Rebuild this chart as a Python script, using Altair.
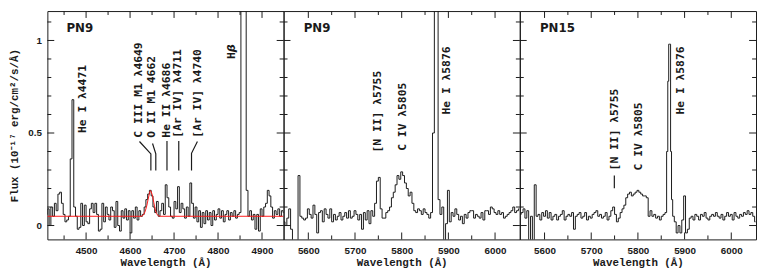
import altair as alt
import pandas as pd

# ---------------- data ----------------
PN9_BLUE = [
    (4410, 0.06), (4414, 0.09), (4418, 0.00), (4422, 0.10), (4426, 0.05), (4430, 0.12),
    (4434, 0.08), (4438, 0.17), (4442, 0.18), (4446, 0.12), (4450, 0.06), (4454, 0.02),
    (4458, 0.03), (4462, 0.05), (4466, 0.36), (4470, 0.68), (4474, 0.10), (4478, 0.05),
    (4482, -0.02), (4486, -0.01), (4490, 0.12), (4494, 0.00), (4498, 0.11), (4502, 0.02),
    (4506, 0.01), (4510, 0.09), (4514, 0.12), (4518, 0.07), (4522, 0.12), (4526, 0.06),
    (4530, -0.03), (4534, -0.02), (4538, 0.12), (4542, 0.02), (4546, 0.10), (4550, 0.06),
    (4554, 0.03), (4558, 0.10), (4562, 0.08), (4566, -0.01), (4570, 0.13), (4574, 0.00),
    (4578, -0.03), (4582, 0.08), (4586, 0.04), (4590, 0.09), (4594, 0.03), (4598, 0.08),
    (4602, -0.04), (4606, 0.08), (4610, 0.04), (4614, 0.10), (4618, 0.03), (4622, 0.08),
    (4626, 0.05), (4630, 0.06), (4634, 0.10), (4638, 0.14), (4642, 0.17), (4646, 0.19),
    (4650, 0.16), (4654, 0.10), (4658, 0.07), (4662, 0.13), (4666, 0.05), (4670, 0.08),
    (4674, 0.12), (4678, 0.06), (4682, 0.22), (4686, 0.15), (4690, 0.10), (4694, 0.05),
    (4698, 0.04), (4702, 0.13), (4706, 0.09), (4710, 0.21), (4714, 0.07), (4718, 0.12),
    (4722, 0.09), (4726, 0.04), (4730, 0.10), (4734, 0.05), (4738, 0.23), (4742, 0.12),
    (4746, 0.04), (4750, 0.10), (4754, 0.02), (4758, 0.08), (4762, -0.01), (4766, 0.07),
    (4770, 0.01), (4774, 0.08), (4778, 0.03), (4782, 0.07), (4786, 0.00), (4790, 0.08),
    (4794, 0.03), (4798, 0.06), (4802, 0.09), (4806, 0.04), (4810, 0.08), (4814, 0.02),
    (4818, 0.06), (4822, 0.08), (4826, 0.03), (4830, 0.07), (4834, 0.05), (4838, 0.08),
    (4842, 0.04), (4846, 0.06), (4850, 0.07), (4854, 1.60), (4858, 3.00), (4862, 1.80),
    (4866, 0.19), (4870, 0.05), (4874, 0.08), (4878, 0.03), (4882, 0.06), (4886, -0.02),
    (4890, 0.06), (4894, -0.03), (4898, 0.09), (4902, 0.05), (4906, 0.10), (4910, 0.12),
    (4914, 0.19), (4918, 0.16), (4922, 0.10), (4926, 0.04), (4930, 0.08), (4934, 0.06),
    (4938, 0.09), (4942, 0.05), (4946, 0.08), (4950, 0.07),
]

PN9_RED = [
    (5548, 0.02), (5552, 0.00), (5556, 0.04), (5560, 0.09), (5564, -0.02), (5568, -0.15),
    (5572, -0.15), (5576, -0.15), (5580, 0.27), (5584, 0.05), (5588, 0.04), (5592, 0.03),
    (5596, 0.04), (5600, 0.09), (5604, 0.06), (5608, 0.04), (5612, 0.11), (5616, 0.06),
    (5620, -0.04), (5624, 0.07), (5628, 0.08), (5632, 0.02), (5636, 0.09), (5640, 0.06),
    (5644, 0.04), (5648, 0.09), (5652, 0.02), (5656, 0.06), (5660, 0.03), (5664, 0.05),
    (5668, 0.07), (5672, 0.03), (5676, 0.05), (5680, 0.07), (5684, 0.04), (5688, 0.08),
    (5692, 0.04), (5696, 0.05), (5700, 0.08), (5704, 0.06), (5708, 0.03), (5712, 0.06),
    (5716, -0.02), (5720, 0.07), (5724, 0.03), (5728, 0.08), (5732, 0.01), (5736, 0.08),
    (5740, 0.05), (5744, 0.12), (5748, 0.24), (5752, 0.26), (5756, 0.09), (5760, 0.04),
    (5764, 0.04), (5768, 0.07), (5772, 0.08), (5776, 0.10), (5780, 0.15), (5784, 0.18),
    (5788, 0.22), (5792, 0.27), (5796, 0.25), (5800, 0.29), (5804, 0.27), (5808, 0.23),
    (5812, 0.20), (5816, 0.16), (5820, 0.18), (5824, 0.12), (5828, 0.08), (5832, 0.07),
    (5836, 0.09), (5840, 0.08), (5844, 0.06), (5848, 0.09), (5852, 0.07), (5856, 0.06),
    (5860, 0.04), (5864, 0.07), (5868, 0.50), (5872, 1.60), (5876, 1.40), (5880, 0.14),
    (5884, 0.06), (5888, 0.10), (5892, -0.12), (5896, 0.01), (5900, 0.19), (5904, 0.02),
    (5908, 0.07), (5912, 0.05), (5916, 0.09), (5920, 0.06), (5924, 0.03), (5928, 0.05),
    (5932, 0.01), (5936, 0.06), (5940, 0.04), (5944, 0.07), (5948, 0.08), (5952, 0.08),
    (5956, 0.04), (5960, 0.06), (5964, 0.05), (5968, 0.04), (5972, 0.07), (5976, 0.03),
    (5980, 0.08), (5984, 0.08), (5988, 0.06), (5992, 0.10), (5996, 0.09), (6000, 0.07),
    (6004, 0.06), (6008, 0.08), (6012, 0.06), (6016, 0.07), (6020, 0.04), (6024, 0.05),
    (6028, 0.06), (6032, 0.07), (6036, 0.08), (6040, 0.10), (6044, 0.07), (6048, 0.08),
    (6052, 0.09),
]

PN15_RED = [
    (5548, 0.06), (5552, 0.07), (5556, 0.09), (5560, 0.04), (5564, 0.08), (5568, -0.15),
    (5572, 0.05), (5576, -0.15), (5580, 0.22), (5584, 0.05), (5588, 0.06), (5592, 0.03),
    (5596, 0.07), (5600, 0.05), (5604, 0.08), (5608, 0.04), (5612, 0.07), (5616, 0.03),
    (5620, 0.05), (5624, 0.06), (5628, 0.03), (5632, 0.05), (5636, 0.06), (5640, 0.08),
    (5644, 0.03), (5648, 0.05), (5652, 0.06), (5656, 0.05), (5660, 0.07), (5664, -0.02),
    (5668, 0.05), (5672, 0.06), (5676, 0.07), (5680, 0.04), (5684, 0.05), (5688, 0.07),
    (5692, 0.03), (5696, 0.05), (5700, 0.04), (5704, 0.06), (5708, 0.07), (5712, 0.08),
    (5716, 0.05), (5720, 0.06), (5724, 0.04), (5728, 0.05), (5732, 0.07), (5736, 0.03),
    (5740, 0.05), (5744, 0.08), (5748, 0.10), (5752, 0.06), (5756, 0.02), (5760, 0.04),
    (5764, 0.07), (5768, 0.09), (5772, 0.11), (5776, 0.15), (5780, 0.17), (5784, 0.18),
    (5788, 0.16), (5792, 0.17), (5796, 0.18), (5800, 0.19), (5804, 0.18), (5808, 0.17),
    (5812, 0.16), (5816, 0.16), (5820, 0.15), (5824, 0.05), (5828, 0.08), (5832, 0.05),
    (5836, 0.06), (5840, 0.04), (5844, 0.05), (5848, 0.03), (5852, 0.05), (5856, 0.06),
    (5860, 0.07), (5863, 0.40), (5865, 0.78), (5867, 0.98), (5869, 0.98), (5871, 0.40),
    (5873, 0.14), (5876, 0.05), (5880, 0.02), (5884, -0.04), (5888, 0.00), (5892, -0.04),
    (5896, 0.03), (5900, 0.16), (5904, -0.04), (5908, -0.02), (5912, 0.04), (5916, 0.05),
    (5920, 0.03), (5924, 0.06), (5928, 0.05), (5932, 0.03), (5936, 0.06), (5940, 0.05),
    (5944, 0.07), (5948, 0.04), (5952, 0.03), (5956, 0.05), (5960, 0.06), (5964, 0.05),
    (5968, 0.07), (5972, 0.05), (5976, 0.04), (5980, 0.06), (5984, 0.03), (5988, 0.05),
    (5992, 0.07), (5996, 0.05), (6000, 0.06), (6004, 0.03), (6008, 0.07), (6012, 0.05),
    (6016, 0.04), (6020, 0.06), (6024, 0.05), (6028, 0.07), (6032, 0.06), (6036, 0.08),
    (6040, 0.06), (6044, 0.07), (6048, 0.05), (6052, 0.02),
]

# red fit (continuum + line blend) in the first panel
FIT = [
    (4412, 0.050), (4626, 0.050), (4630, 0.056), (4634, 0.074), (4638, 0.107),
    (4641, 0.141), (4644, 0.174), (4646, 0.188), (4648, 0.184), (4651, 0.160),
    (4654, 0.124), (4657, 0.089), (4660, 0.065), (4664, 0.053), (4668, 0.050),
    (4949, 0.050),
]

P1_DOMAIN = [4412, 4949]
P23_DOMAIN = [5547, 6053]
Y_DOMAIN = [-0.075, 1.159]

P1_MAJOR = [4500, 4600, 4700, 4800, 4900]
P1_MINOR = [4450, 4550, 4650, 4750, 4850]
P23_MAJOR = [5600, 5700, 5800, 5900, 6000]
P23_MINOR = [5650, 5750, 5850, 5950]
Y_MAJOR = [0, 0.5, 1]
Y_MINOR = [0.1, 0.2, 0.3, 0.4, 0.6, 0.7, 0.8, 0.9, 1.1]

# rotated line identifications: (text, wavelength, flux at bottom of text)
P1_LABELS = [
    ("He I λ4471", 4493, 0.50),
    ("C III M1 λ4649", 4621, 0.475),
    ("O II M1 4662", 4650.5, 0.475),
    ("He II λ4686", 4684, 0.475),
    ("[Ar IV] λ4711", 4710, 0.475),
    ("[Ar IV] λ4740", 4754, 0.475),
    ("H", 4831.6, 0.90),
]
P1_ITALIC = [("β", 4831.6, 0.937)]
P2_LABELS = [
    ("[N II] λ5755", 5749.5, 0.395),
    ("C IV λ5805", 5802, 0.404),
    ("He I λ5876", 5896.8, 0.60),
]
P3_LABELS = [
    ("[N II] λ5755", 5750, 0.298),
    ("C IV λ5805", 5802, 0.298),
    ("He I λ5876", 5893.3, 0.60),
]
# connector lines: (group, order, wavelength, flux)
P1_CONNECT = [
    ("c3", 0, 4621.4, 0.454), ("c3", 1, 4647.3, 0.387), ("c3", 2, 4647.3, 0.298),
    ("o2", 0, 4651.1, 0.443), ("o2", 1, 4658.5, 0.387), ("o2", 2, 4658.5, 0.298),
    ("he2", 0, 4683.9, 0.457), ("he2", 1, 4683.9, 0.298),
    ("ar1", 0, 4710.7, 0.457), ("ar1", 1, 4710.7, 0.298),
    ("ar2", 0, 4753.1, 0.454), ("ar2", 1, 4739.7, 0.390), ("ar2", 2, 4739.7, 0.298),
]
P3_CONNECT = [("n2", 0, 5749.5, 0.271), ("n2", 1, 5749.5, 0.202)]

PANEL_NAMES = [("PN9", 4455.4), ("PN9", 5590.1), ("PN15", 5590.1)]
NAME_FLUX = 1.066

W, H = 240, 232
INK = "#1a1a1a"
TICK_FONT = "Liberation Sans"
TITLE_FONT = "Liberation Mono"
ANN_FONT = "DejaVu Sans Mono"


def panel(spec, domain, xmaj, xmin, labels, name, connect=None, fit=None,
          italic=None, show_y=False):
    x_enc = alt.X(
        "lam:Q",
        scale=alt.Scale(domain=domain, nice=False, zero=False),
        axis=alt.Axis(
            values=xmaj, title="Wavelength (Å)", ticks=False, domain=False, grid=False,
            labelFont=TICK_FONT, labelFontSize=10, labelFontWeight="bold", labelColor=INK,
            labelPadding=6, titleFont=TITLE_FONT, titleFontSize=11, titleFontWeight="bold",
            titleColor=INK, titlePadding=2, format="d",
        ),
    )
    if show_y:
        y_axis = alt.Axis(
            values=Y_MAJOR, title="Flux (10⁻¹⁷ erg/cm²/s/Å)", ticks=False, domain=False,
            grid=False, labelFont=TICK_FONT, labelFontSize=10, labelFontWeight="bold",
            labelColor=INK, labelPadding=6, titleFont=TITLE_FONT, titleFontSize=11,
            titleFontWeight="bold", titleColor=INK, titlePadding=8, format="~g",
        )
    else:
        y_axis = None
    y_enc = alt.Y("flux:Q", scale=alt.Scale(domain=Y_DOMAIN, nice=False, zero=False), axis=y_axis)

    sdf = pd.DataFrame(spec, columns=["lam", "flux"])
    layers = [
        alt.Chart(sdf).mark_line(interpolate="step", clip=True, color=INK, strokeWidth=1)
        .encode(x=x_enc, y=y_enc)
    ]
    if fit is not None:
        fdf = pd.DataFrame(fit, columns=["lam", "flux"])
        layers.append(
            alt.Chart(fdf).mark_line(clip=True, color="#ff1a1a", strokeWidth=1)
            .encode(x=x_enc, y=y_enc)
        )
    if connect is not None:
        cdf = pd.DataFrame(connect, columns=["grp", "ord", "lam", "flux"])
        layers.append(
            alt.Chart(cdf).mark_line(color=INK, strokeWidth=1.2)
            .encode(x=x_enc, y=y_enc, detail="grp:N", order="ord:Q")
        )
    ldf = pd.DataFrame(labels, columns=["label", "lam", "flux"])
    layers.append(
        alt.Chart(ldf).mark_text(angle=270, align="left", baseline="middle",
                                 font=ANN_FONT, fontSize=11.5, fontWeight="bold", color=INK)
        .encode(x=x_enc, y=y_enc, text="label:N")
    )
    if italic is not None:
        idf = pd.DataFrame(italic, columns=["label", "lam", "flux"])
        layers.append(
            alt.Chart(idf).mark_text(angle=270, align="left", baseline="middle",
                                     font="DejaVu Sans", fontSize=11.5, fontWeight="bold",
                                     fontStyle="italic", color=INK)
            .encode(x=x_enc, y=y_enc, text="label:N")
        )
    ndf = pd.DataFrame([(name[0], name[1], NAME_FLUX)], columns=["label", "lam", "flux"])
    layers.append(
        alt.Chart(ndf).mark_text(align="left", baseline="middle", font="DejaVu Sans",
                                 fontSize=12, fontWeight="bold", color=INK)
        .encode(x=x_enc, y=y_enc, text="label:N")
    )
    # inward ticks on all four sides
    for vals, ln in ((xmaj, 7), (xmin, 4)):
        tdf = pd.DataFrame({"lam": vals})
        layers.append(alt.Chart(tdf).mark_rule(color=INK, strokeWidth=1)
                      .encode(x=x_enc, y=alt.value(H), y2=alt.value(H - ln)))
        layers.append(alt.Chart(tdf).mark_rule(color=INK, strokeWidth=1)
                      .encode(x=x_enc, y=alt.value(0), y2=alt.value(ln)))
    for vals, ln in ((Y_MAJOR, 7), (Y_MINOR, 4)):
        tdf = pd.DataFrame({"flux": vals})
        layers.append(alt.Chart(tdf).mark_rule(color=INK, strokeWidth=1)
                      .encode(y=y_enc, x=alt.value(0), x2=alt.value(ln)))
        layers.append(alt.Chart(tdf).mark_rule(color=INK, strokeWidth=1)
                      .encode(y=y_enc, x=alt.value(W), x2=alt.value(W - ln)))
    return alt.layer(*layers).properties(width=W, height=H)


p1 = panel(PN9_BLUE, P1_DOMAIN, P1_MAJOR, P1_MINOR, P1_LABELS, PANEL_NAMES[0],
           connect=P1_CONNECT, fit=FIT, italic=P1_ITALIC, show_y=True)
p2 = panel(PN9_RED, P23_DOMAIN, P23_MAJOR, P23_MINOR, P2_LABELS, PANEL_NAMES[1])
p3 = panel(PN15_RED, P23_DOMAIN, P23_MAJOR, P23_MINOR, P3_LABELS, PANEL_NAMES[2],
           connect=P3_CONNECT)

chart = (
    alt.hconcat(p1, p2, p3, spacing=0, bounds="flush")
    .properties(padding=0, background="white")
    .configure_view(stroke=INK, strokeWidth=1)
)

chart.save("out.html", embed_options={"renderer": "svg", "actions": False})
